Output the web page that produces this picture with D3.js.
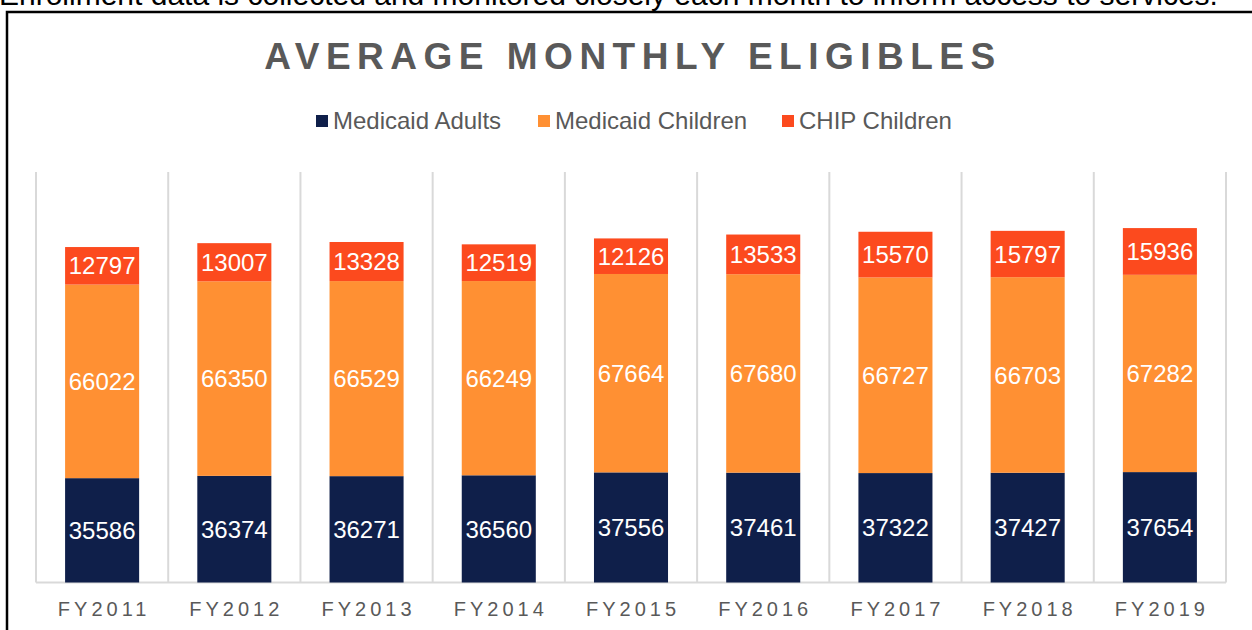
<!DOCTYPE html>
<html>
<head>
<meta charset="utf-8">
<script src="https://cdn.jsdelivr.net/npm/d3@7"></script>
<style>
  body { margin: 0; background: #fff; }
  svg { display: block; font-family: Arial, "Liberation Sans", sans-serif; }
</style>
</head>
<body>
<div id="chart"></div>
<script>
var svgWidth = 1252;
var svgHeight = 630;

// data
var years = ["FY2011", "FY2012", "FY2013", "FY2014", "FY2015", "FY2016", "FY2017", "FY2018", "FY2019"];
var adults = [35586, 36374, 36271, 36560, 37556, 37461, 37322, 37427, 37654];
var children = [66022, 66350, 66529, 66249, 67664, 67680, 66727, 66703, 67282];
var chip = [12797, 13007, 13328, 12519, 12126, 13533, 15570, 15797, 15936];
var seriesNames = ["Medicaid Adults", "Medicaid Children", "CHIP Children"];
var seriesColors = ["#0f1f4a", "#ff9033", "#fc4a1e"];

var margin = { top: 172, right: 26, bottom: 48, left: 36 };
var width = svgWidth - margin.left - margin.right;
var height = 582.5 - margin.top;

var svg = d3.select("#chart")
  .append("svg")
  .attr("width", svgWidth)
  .attr("height", svgHeight);

// cut-off sentence above the box
svg.append("text")
  .attr("x", -1)
  .attr("y", 5)
  .attr("font-size", 30)
  .attr("fill", "#000")
  .text("Enrollment data is collected and monitored closely each month to inform access to services.");

// box border
svg.append("path")
  .attr("d", "M7,640 L7,12 L1260,12")
  .attr("fill", "none")
  .attr("stroke", "#000")
  .attr("stroke-width", 2.5);

// title
svg.append("text")
  .attr("x", 633)
  .attr("y", 69)
  .attr("text-anchor", "middle")
  .attr("font-size", 37)
  .attr("font-weight", "bold")
  .attr("letter-spacing", "6.5px")
  .attr("fill", "#595959")
  .text("AVERAGE MONTHLY ELIGIBLES");

// legend
var legendX = [316, 538, 782];
var legend = svg.append("g");
seriesNames.forEach(function(name, i) {
  legend.append("rect")
    .attr("x", legendX[i])
    .attr("y", 115)
    .attr("width", 12)
    .attr("height", 12)
    .attr("fill", seriesColors[i]);
  legend.append("text")
    .attr("x", legendX[i] + 17)
    .attr("y", 129)
    .attr("font-size", 24)
    .attr("fill", "#595959")
    .text(name);
});

var chartGroup = svg.append("g")
  .attr("transform", `translate(${margin.left}, ${margin.top})`);

var table = years.map(function(y, i) {
  return { year: y, adults: adults[i], children: children[i], chip: chip[i] };
});
var stack = d3.stack().keys(["adults", "children", "chip"])(table);

var xBandScale = d3.scaleBand()
  .domain(years)
  .range([0, width])
  .paddingInner(0.44)
  .paddingOuter(0.22);

var yLinearScale = d3.scaleLinear()
  .domain([0, 140000])
  .range([height, 0]);

// vertical category separators
var step = width / years.length;
chartGroup.selectAll(".sep")
  .data(d3.range(years.length + 1))
  .enter()
  .append("line")
  .attr("x1", d => d * step)
  .attr("x2", d => d * step)
  .attr("y1", 0)
  .attr("y2", height)
  .attr("stroke", "#d9d9d9")
  .attr("stroke-width", 2);

// baseline
chartGroup.append("line")
  .attr("x1", 0)
  .attr("x2", width)
  .attr("y1", height)
  .attr("y2", height)
  .attr("stroke", "#d9d9d9")
  .attr("stroke-width", 2);

var layers = chartGroup.selectAll(".layer")
  .data(stack)
  .enter()
  .append("g")
  .attr("fill", (d, i) => seriesColors[i]);

layers.selectAll("rect")
  .data(d => d)
  .enter()
  .append("rect")
  .attr("x", d => xBandScale(d.data.year))
  .attr("y", d => yLinearScale(d[1]))
  .attr("width", xBandScale.bandwidth())
  .attr("height", d => yLinearScale(d[0]) - yLinearScale(d[1]));

layers.selectAll("text")
  .data(d => d)
  .enter()
  .append("text")
  .attr("x", d => xBandScale(d.data.year) + xBandScale.bandwidth() / 2)
  .attr("y", d => (yLinearScale(d[0]) + yLinearScale(d[1])) / 2)
  .attr("dy", "0.36em")
  .attr("text-anchor", "middle")
  .attr("font-size", 24)
  .attr("fill", "#fff")
  .text(d => d[1] - d[0]);

// x axis labels
var bottomAxis = d3.axisBottom(xBandScale).tickSize(0).tickPadding(19);
var xAxis = chartGroup.append("g")
  .attr("transform", `translate(0, ${height})`)
  .call(bottomAxis);
xAxis.select(".domain").remove();
xAxis.selectAll("text")
  .attr("font-size", 20)
  .attr("font-family", "Arial, 'Liberation Sans', sans-serif")
  .attr("fill", "#595959")
  .attr("letter-spacing", "4px")
  .attr("dx", "2px");
</script>
</body>
</html>
